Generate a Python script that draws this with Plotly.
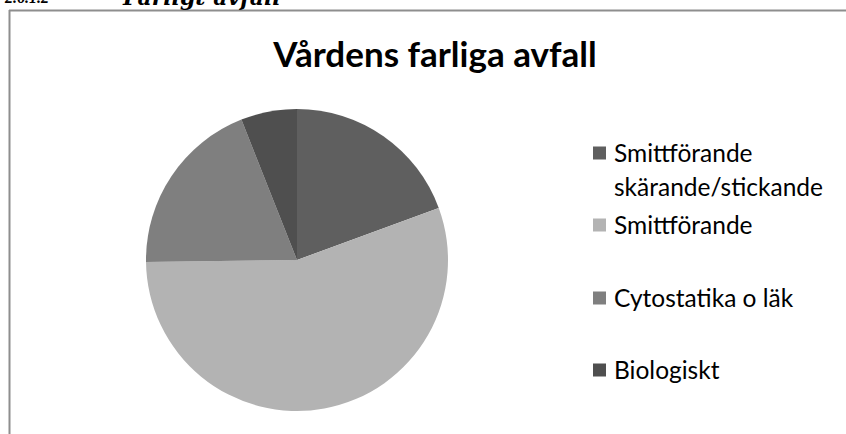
import plotly.graph_objects as go

# Vårdens farliga avfall, andel per kategori (%)
labels = ["Smittförande skärande/stickande", "Smittförande", "Cytostatika o läk", "Biologiskt"]
values = [19.4, 55.4, 19.2, 6.0]
colors = ["#5f5f5f", "#b3b3b3", "#7f7f7f", "#4f4f4f"]
legend_lines = [["Smittförande", "skärande/stickande"], ["Smittförande"], ["Cytostatika o läk"], ["Biologiskt"]]

W, H = 846, 434


def px_x(x):
    return x / W


def px_y(y):
    return 1 - y / H


fig = go.Figure(
    go.Pie(
        labels=labels,
        values=values,
        marker=dict(colors=colors, line=dict(width=0)),
        sort=False,
        direction="clockwise",
        rotation=0,
        textinfo="none",
        showlegend=False,
        domain=dict(x=[px_x(146), px_x(448)], y=[px_y(411), px_y(109)]),
    )
)

# chart frame (top and left edges visible in the crop)
fig.add_shape(type="line", xref="paper", yref="paper", x0=px_x(9), x1=1.01,
              y0=px_y(10.5), y1=px_y(10.5), line=dict(color="#8e8e8e", width=2))
fig.add_shape(type="line", xref="paper", yref="paper", x0=px_x(9.5), x1=px_x(9.5),
              y0=px_y(10), y1=-0.01, line=dict(color="#8e8e8e", width=2))

# cut-off heading above the chart
fig.add_annotation(text="<b><i>2.6.1.2</i></b>", xref="paper", yref="paper", x=px_x(2), y=px_y(8),
                   xanchor="left", yanchor="bottom", showarrow=False,
                   font=dict(family="Liberation Serif", size=16, color="black"))
fig.add_annotation(text="<b><i>Farligt avfall</i></b>", xref="paper", yref="paper", x=px_x(120), y=px_y(12.5),
                   xanchor="left", yanchor="bottom", showarrow=False,
                   font=dict(family="DejaVu Serif", size=22, color="black"))

# legend drawn by hand to keep Excel's spacing
row_y = [153, 225, 298, 370]
for i, lines in enumerate(legend_lines):
    y0 = row_y[i]
    fig.add_shape(type="rect", xref="paper", yref="paper",
                  x0=px_x(593), x1=px_x(606), y0=px_y(y0 - 6.5), y1=px_y(y0 + 6.5),
                  fillcolor=colors[i], line=dict(width=0))
    for j, line in enumerate(lines):
        fig.add_annotation(text=line, xref="paper", yref="paper",
                           x=px_x(612), y=px_y(y0 - 1 + j * 34), xanchor="left", yanchor="middle",
                           showarrow=False, font=dict(family="Lato", size=24.5, color="black"))

fig.update_layout(
    width=W,
    height=H,
    margin=dict(l=0, r=0, t=0, b=0),
    paper_bgcolor="white",
    plot_bgcolor="white",
    title=dict(text="<b>Vårdens farliga avfall</b>", x=px_x(435), xanchor="center",
               y=px_y(55), yanchor="middle", yref="container",
               font=dict(family="Lato", size=35, color="black")),
)

fig.write_html("out.html", config={"displayModeBar": False},
               post_script="document.body.style.margin='0';")
